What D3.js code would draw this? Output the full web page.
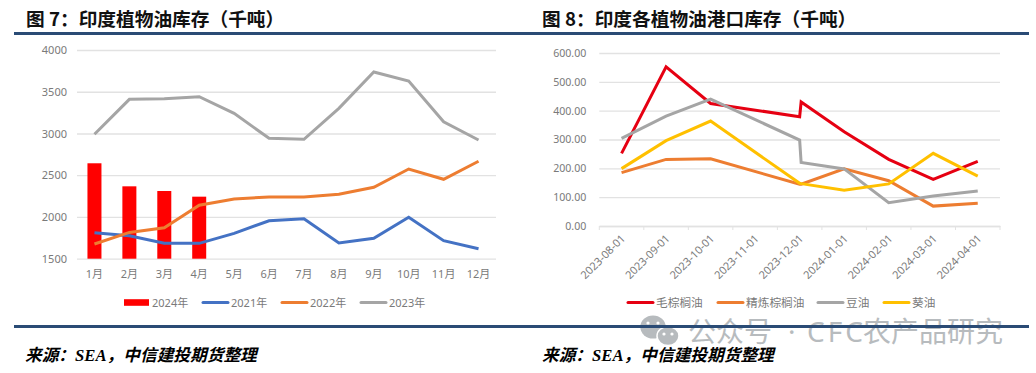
<!DOCTYPE html>
<html>
<head>
<meta charset="utf-8">
<script src="https://cdn.jsdelivr.net/npm/d3@7"></script>
<style>
  html, body { margin: 0; padding: 0; background: #fff; }
  svg { display: block; }
  text { font-family: "Noto Sans", "Noto Sans CJK SC", sans-serif; }
  .title { font-family: "Noto Sans CJK SC", sans-serif; font-weight: 700; font-size: 18.7px; fill: #111; }
  .source { font-family: "Liberation Serif", "Noto Sans CJK SC", serif; font-weight: 700; font-style: italic; font-size: 16.7px; fill: #000; }
  .tick text, .legend text { fill: #7a7a7a; font-size: 11px; }
  .right .y-axis .tick text { font-size: 10.6px; }
  .right .x-axis .tick text { font-size: 11px; }
  .legend.right text { font-size: 11.7px; }
</style>
</head>
<body>
<svg id="chart" width="1036" height="373"></svg>
<script>
const months = ["1月", "2月", "3月", "4月", "5月", "6月", "7月", "8月", "9月", "10月", "11月", "12月"];
const stock2024 = [2643, 2367, 2311, 2243];
const stock2021 = [1811, 1775, 1684, 1684, 1804, 1955, 1979, 1688, 1744, 1996, 1716, 1620];
const stock2022 = [1676, 1815, 1870, 2140, 2215, 2239, 2240, 2271, 2355, 2574, 2451, 2667];
const stock2023 = [2990, 3409, 3417, 3440, 3241, 2942, 2930, 3301, 3736, 3628, 3141, 2922];
const leftTicks = [1500, 2000, 2500, 3000, 3500, 4000];

const dates = ["2023-08-01", "2023-09-01", "2023-10-01", "2023-11-01", "2023-12-01",
  "2024-01-01", "2024-02-01", "2024-03-01", "2024-04-01"];
// the port series restate on 12-01, so that date appears twice and there is nothing for 11-01
const portDates = ["2023-08-01", "2023-09-01", "2023-10-01", "2023-12-01", "2023-12-02",
  "2024-01-01", "2024-02-01", "2024-03-01", "2024-04-01"];
const crudePalm = [252, 552, 425, 379, 430, 327, 231, 162, 224];
const refinedPalm = [185, 231, 233, 145, 145, 198, 157, 69, 79];
const soyOil = [304, 381, 440, 298, 220, 198, 81, 104, 121];
const sunOil = [199, 296, 364, 148, 147, 124, 146, 252, 173];
const rightTicks = [0, 100, 200, 300, 400, 500, 600];

const RULE = "#2a4b75";
const GRID = "#e2e2e2";

const svg = d3.select("#chart");

function frame(x0, x1, title, titleX, sourceX) {
  svg.append("text").attr("class", "title").attr("x", titleX).attr("y", 26).text(title);
  svg.append("rect").attr("x", x0).attr("y", 32).attr("width", x1 - x0).attr("height", 3).attr("fill", RULE);
  svg.append("rect").attr("x", x0).attr("y", 325).attr("width", x1 - x0).attr("height", 3).attr("fill", RULE);
  svg.append("text").attr("class", "source").attr("x", sourceX).attr("y", 361).text("来源：SEA，中信建投期货整理");
}

function yAxisGrid(g, y, ticks, width, fmt, padding) {
  g.call(d3.axisLeft(y).tickValues(ticks).tickFormat(fmt).tickSize(-width).tickPadding(padding))
    .call((g) => g.select(".domain").remove())
    .call((g) => g.selectAll(".tick line").attr("stroke", GRID).attr("stroke-width", 1.3));
}

function legend(items, startY, cls) {
  const g = svg.append("g").attr("class", `legend ${cls}`);
  items.forEach((d) => {
    if (d.bar) {
      g.append("rect").attr("x", d.x).attr("y", startY - 3.3).attr("width", d.w).attr("height", 6.6).attr("fill", d.color);
    } else {
      g.append("line").attr("x1", d.x).attr("x2", d.x + d.w).attr("y1", startY).attr("y2", startY)
        .attr("stroke", d.color).attr("stroke-width", 3).attr("stroke-linecap", "round");
    }
    g.append("text").attr("x", d.x + d.w + 3).attr("y", startY + 4).text(d.name);
  });
}

function drawLine(g, line, values, color) {
  g.append("path").datum(values).attr("d", line).attr("fill", "none")
    .attr("stroke", color).attr("stroke-width", 3).attr("stroke-linejoin", "miter");
}

// 图 7
function leftChart() {
  const x = d3.scaleBand().domain(months).range([77, 496]);
  const y = d3.scaleLinear().domain([1500, 4000]).range([258.7, 50]);
  const g = svg.append("g");

  g.append("g").attr("class", "y-axis").attr("transform", "translate(77,0)")
    .call(yAxisGrid, y, leftTicks, 419, d3.format("d"), 10);

  g.append("g").attr("class", "x-axis").attr("transform", "translate(0,258.7)")
    .call(d3.axisBottom(x).tickSize(0).tickPadding(12))
    .call((g) => g.select(".domain").remove());

  g.selectAll(".bar").data(stock2024).join("rect")
    .attr("class", "bar")
    .attr("x", (d, i) => x(months[i]) + x.bandwidth() / 2 - 7)
    .attr("width", 14)
    .attr("y", (d) => y(d))
    .attr("height", (d) => y(1500) - y(d))
    .attr("fill", "#ff0000");

  const line = d3.line().x((d, i) => x(months[i]) + x.bandwidth() / 2).y((d) => y(d));
  drawLine(g, line, stock2021, "#4472c4");
  drawLine(g, line, stock2022, "#ed7d31");
  drawLine(g, line, stock2023, "#a5a5a5");

  legend([
    { name: "2024年", color: "#ff0000", x: 124, w: 25, bar: true },
    { name: "2021年", color: "#4472c4", x: 203, w: 25 },
    { name: "2022年", color: "#ed7d31", x: 282, w: 25 },
    { name: "2023年", color: "#a5a5a5", x: 361, w: 25 },
  ], 302.5, "left");
}

// 图 8
function rightChart() {
  const band = d3.scaleBand().domain(dates).range([599.3, 1000]);
  const x = (d) => {
    // place a date inside its own month's band
    const label = d.slice(0, 8) + "01";
    return band(label) + band.bandwidth() / 2 + (new Date(d).getUTCDate() - 1) * band.step() / 30;
  };
  const y = d3.scaleLinear().domain([0, 600]).range([226, 53]);
  const g = svg.append("g").attr("class", "right");

  g.append("g").attr("class", "y-axis").attr("transform", "translate(599.3,0)")
    .call(yAxisGrid, y, rightTicks, 400.7, d3.format(".2f"), 13);

  const xAxis = g.append("g").attr("class", "x-axis").attr("transform", "translate(0,226)")
    .call(d3.axisBottom(band).tickSize(0).tickPadding(7));
  xAxis.select(".domain").attr("stroke", GRID).attr("stroke-width", 1.3);
  xAxis.selectAll(".tick text")
    .attr("text-anchor", "end")
    .attr("dx", "0.4em")
    .attr("dy", "0.3em")
    .attr("transform", "translate(-6,9) rotate(-45)");
  xAxis.selectAll(".edge").data(d3.range(dates.length + 1)).join("line")
    .attr("class", "edge")
    .attr("x1", (i) => 599.3 + i * band.step())
    .attr("x2", (i) => 599.3 + i * band.step())
    .attr("y1", 0).attr("y2", 4)
    .attr("stroke", GRID);

  const line = d3.line().x((d, i) => x(portDates[i])).y((d) => y(d));
  drawLine(g, line, crudePalm, "#e60012");
  drawLine(g, line, refinedPalm, "#ed7d31");
  drawLine(g, line, soyOil, "#a5a5a5");
  drawLine(g, line, sunOil, "#ffc000");

  legend([
    { name: "毛棕榈油", color: "#e60012", x: 628, w: 25 },
    { name: "精炼棕榈油", color: "#ed7d31", x: 718, w: 25 },
    { name: "豆油", color: "#a5a5a5", x: 818, w: 25 },
    { name: "葵油", color: "#ffc000", x: 884, w: 25 },
  ], 302.5, "right");
}

// 公众号水印, the rule stays dark over it so draw it first
function watermark() {
  const g = svg.append("g");
  const c = "#b7bbbe";
  const font = "'Noto Sans CJK SC', sans-serif";
  g.append("ellipse").attr("cx", 653).attr("cy", 327).attr("rx", 12.7).attr("ry", 11.5).attr("fill", c);
  g.append("ellipse").attr("cx", 668).attr("cy", 336).attr("rx", 11).attr("ry", 9.5).attr("fill", c).attr("stroke", "#fff").attr("stroke-width", 1.5);
  g.selectAll(".eye").data([[648, 323], [658, 323], [664, 334], [672, 334]]).join("circle")
    .attr("class", "eye")
    .attr("cx", (d) => d[0]).attr("cy", (d) => d[1]).attr("r", 1.6).attr("fill", "#fff");
  g.append("text").attr("x", 688).attr("y", 342).attr("font-size", 28).attr("font-family", font).attr("fill", c)
    .text("公众号");
  g.append("text").attr("x", 788).attr("y", 342).attr("font-size", 28).attr("font-family", font).attr("fill", c)
    .text("·");
  g.append("text").attr("x", 807).attr("y", 342).attr("font-size", 28).attr("font-family", font).attr("fill", c)
    .attr("textLength", 56).text("CFC");
  g.append("text").attr("x", 863).attr("y", 342).attr("font-size", 28).attr("font-family", font).attr("fill", c)
    .text("农产品研究");
}

watermark();
frame(14, 520, "图 7：印度植物油库存（千吨）", 26, 25);
frame(520, 1029, "图 8：印度各植物油港口库存（千吨）", 542, 542);
leftChart();
rightChart();
</script>
</body>
</html>
